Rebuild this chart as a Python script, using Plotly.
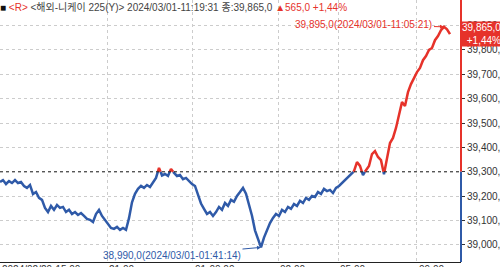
import plotly.graph_objects as go

# ---------------- data ----------------
prices = [
    39258, 39266, 39250, 39262, 39254, 39266, 39254, 39258, 39242, 39234,
    39246, 39209, 39217, 39193, 39185, 39152, 39135, 39160, 39144, 39164,
    39152, 39156, 39135, 39144, 39127, 39135, 39123, 39131, 39119, 39107,
    39103, 39094, 39127, 39144, 39119, 39103, 39086, 39070, 39066, 39074,
    39062, 39070, 39062, 39110, 39175, 39210, 39230, 39242, 39234, 39246,
    39238, 39258, 39275, 39316, 39285, 39291, 39283, 39312, 39295, 39283,
    39287, 39270, 39275, 39262, 39250, 39242, 39205, 39170, 39148, 39127,
    39135, 39119, 39135, 39156, 39144, 39172, 39160, 39185, 39177, 39201,
    39217, 39234, 39210, 39170, 39120, 39060, 39025, 38990, 39030, 39062,
    39090, 39111, 39127, 39119, 39144, 39135, 39156, 39148, 39168, 39160,
    39181, 39172, 39193, 39185, 39201, 39197, 39217, 39209, 39230, 39221,
    39226, 39213, 39234, 39242, 39254, 39266, 39275, 39287, 39303, 39340,
    39324, 39287, 39307, 39324, 39373, 39385, 39361, 39348, 39290, 39357,
    39418, 39439, 39480, 39533, 39586, 39570, 39627, 39660, 39685, 39709,
    39726, 39758, 39775, 39800, 39808, 39840, 39857, 39881, 39895, 39885,
    39865,
]
prev_close = 39300
x_tick_labels = ["2024/02/29-15:00", "21:00", "01-00:00", "02:00", "05:00", "09:00"]
y_tick_values = [39000, 39100, 39200, 39300, 39400, 39500, 39600, 39700, 39800, 39900]
y_tick_labels = ["39,000,0", "39,100,0", "39,200,0", "39,300,0", "39,400,0",
                 "39,500,0", "39,600,0", "39,700,0", "39,800,0", "39,900,0"]
last_text = ["39,865,0", "+1,44%"]
max_text = "39,895,0(2024/03/01-11:05:21)"
min_text = "38,990,0(2024/03/01-01:41:14)"
title_parts = ["<R>", "<해외-니케이 225(Y)> 2024/03/01-11:19:31 종:39,865,0", "▲565,0 +1,44%"]

# ---------------- styles / positions ----------------
BLUE = "#2f5aa8"
RED = "#e6322a"
x_tick_pos = [0, 35.67, 64.33, 92.67, 112.67, 139]
x_max = 153.67
y_range = [38930, 40005]
FONT = "Liberation Sans, Noto Sans CJK KR, sans-serif"

# split line at the reference level
xs, ys = [], []
for i, v in enumerate(prices):
    if i > 0:
        p = prices[i - 1]
        if (p - prev_close) * (v - prev_close) < 0:
            t = (prev_close - p) / (v - p)
            xs.append(i - 1 + t)
            ys.append(prev_close)
    xs.append(i)
    ys.append(v)
blue_y = [y if y <= prev_close else None for y in ys]
red_y = [y if y >= prev_close else None for y in ys]

fig = go.Figure()
fig.add_trace(go.Scatter(x=xs, y=blue_y, mode="lines",
                         line=dict(color=BLUE, width=2.5), connectgaps=False,
                         hoverinfo="skip"))
fig.add_trace(go.Scatter(x=xs, y=red_y, mode="lines",
                         line=dict(color=RED, width=2.5), connectgaps=False,
                         hoverinfo="skip"))

# reference dashed line
fig.add_shape(type="line", xref="x", yref="y", x0=0, x1=x_max,
              y0=prev_close, y1=prev_close,
              line=dict(color="#222222", width=1, dash="3px,3px"))
# two-coloured right axis line
fig.add_shape(type="line", xref="paper", yref="y", x0=1, x1=1,
              y0=prev_close, y1=y_range[1], line=dict(color=RED, width=2))
fig.add_shape(type="line", xref="paper", yref="y", x0=1, x1=1,
              y0=y_range[0], y1=prev_close, line=dict(color=BLUE, width=2))

imax = prices.index(max(prices))
imin = prices.index(min(prices))
ann = []
ann.append(dict(x=imax, y=prices[imax], xref="x", yref="y", text=max_text,
                showarrow=True, arrowhead=2, arrowsize=0.8, arrowwidth=1,
                arrowcolor=RED, ax=-80, ay=-2, font=dict(color=RED, size=10, family=FONT)))
ann.append(dict(x=imin, y=prices[imin], xref="x", yref="y", text=min_text,
                showarrow=True, arrowhead=2, arrowsize=0.8, arrowwidth=1,
                arrowcolor=BLUE, ax=-89, ay=8, font=dict(color=BLUE, size=10, family=FONT)))
# last price box
ann.append(dict(x=1, y=prices[-1], xref="paper", yref="y", xanchor="left",
                yanchor="middle", text="<br>".join(last_text), showarrow=False,
                align="right", bgcolor=RED, borderpad=0,
                font=dict(color="white", size=10, family=FONT)))
# title line
title_html = ("<span style='color:#111'>■</span> "
              f"<span style='color:{RED}'>{title_parts[0].replace('<', '&lt;').replace('>', '&gt;')}</span> "
              f"<span style='color:#444'>{title_parts[1].replace('<', '&lt;').replace('>', '&gt;')}</span> "
              f"<span style='color:{RED}'>{title_parts[2]}</span>")
ann.append(dict(x=0, y=1, xref="paper", yref="paper", xanchor="left", yanchor="top",
                text=title_html, showarrow=False, yshift=1, xshift=-2,
                font=dict(size=10, family=FONT, color="#444")))
# x tick labels (left aligned at grid lines)
for pos, lab in zip(x_tick_pos, x_tick_labels):
    ann.append(dict(x=pos, y=0, xref="x", yref="paper", xanchor="left", yanchor="top",
                    text=lab, showarrow=False, yshift=0,
                    font=dict(size=10, family=FONT, color="#333")))

fig.update_layout(
    width=500, height=267,
    margin=dict(l=0, r=39, t=0, b=5),
    paper_bgcolor="white", plot_bgcolor="white",
    showlegend=False,
    annotations=ann,
    xaxis=dict(range=[0, x_max], tickvals=x_tick_pos[1:], showticklabels=False,
               showgrid=True, gridcolor="#cccccc", griddash="dot", gridwidth=1,
               zeroline=False, showline=True, linecolor="#222222", linewidth=1,
               automargin=False, fixedrange=True),
    yaxis=dict(range=y_range, side="right", tickvals=y_tick_values,
               ticktext=y_tick_labels, ticks="outside", ticklen=3,
               tickcolor="#333", showgrid=True, gridcolor="#cccccc",
               griddash="dot", zeroline=False, showline=False,
               tickfont=dict(size=10, family=FONT, color="#333"),
               automargin=False, fixedrange=True),
)

fig.write_html("out.html")
